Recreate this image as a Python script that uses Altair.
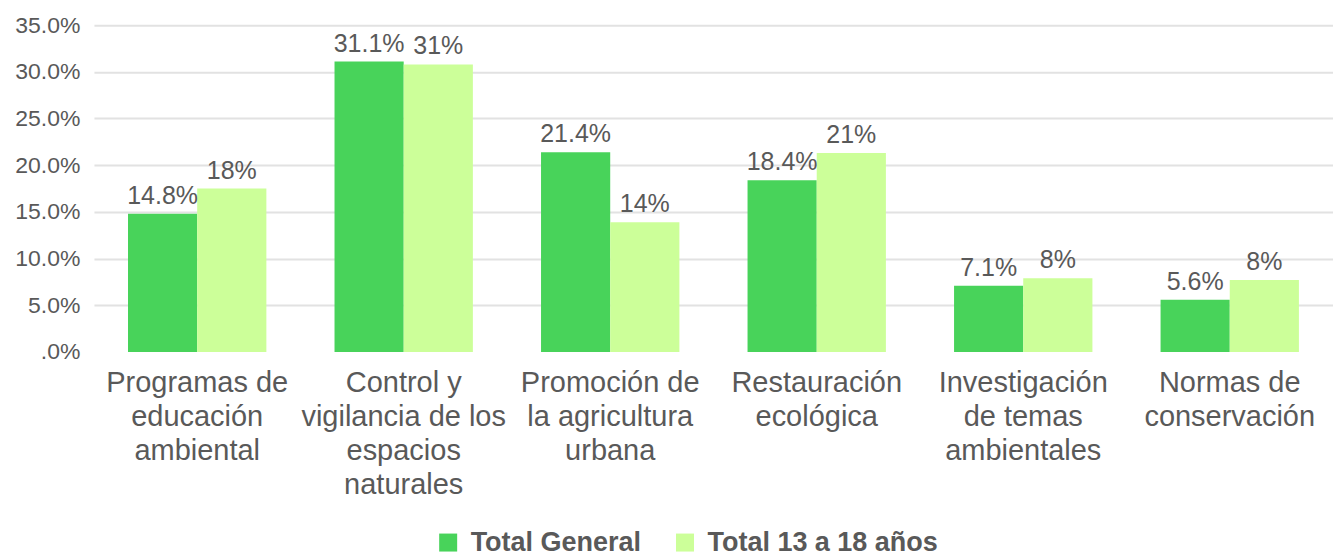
import altair as alt
import pandas as pd

FONT = "Liberation Sans"

categories = [
    "Programas de|educación|ambiental",
    "Control y|vigilancia de los|espacios|naturales",
    "Promoción de|la agricultura|urbana",
    "Restauración|ecológica",
    "Investigación|de temas|ambientales",
    "Normas de|conservación",
]
series = ["Total General", "Total 13 a 18 años"]
total_general = [14.8, 31.1, 21.4, 18.4, 7.1, 5.6]
total_general_labels = ["14.8%", "31.1%", "21.4%", "18.4%", "7.1%", "5.6%"]
total_13_18 = [17.5, 30.8, 13.9, 21.3, 7.9, 7.7]
total_13_18_labels = ["18%", "31%", "14%", "21%", "8%", "8%"]
colors = ["#48D35A", "#CCFF99"]
y_ticks = [0, 5, 10, 15, 20, 25, 30, 35]

rows = []
for c, v, l in zip(categories, total_general, total_general_labels):
    rows.append({"category": c, "series": series[0], "value": v, "label": l})
for c, v, l in zip(categories, total_13_18, total_13_18_labels):
    rows.append({"category": c, "series": series[1], "value": v, "label": l})
df = pd.DataFrame(rows)

x_enc = alt.X(
    "category:N",
    sort=categories,
    scale=alt.Scale(paddingInner=0.33, paddingOuter=0.165),
    axis=alt.Axis(
        title=None,
        labelExpr="split(datum.label, '|')",
        labelAngle=0,
        labelFont=FONT,
        labelFontSize=29,
        labelLineHeight=34,
        labelLimit=400,
        labelPadding=17,
        labelColor="#595959",
        ticks=False,
        domain=False,
    ),
)
xoff_enc = alt.XOffset("series:N", sort=series, scale=alt.Scale(paddingInner=0, paddingOuter=0))
y_enc = alt.Y(
    "value:Q",
    scale=alt.Scale(domain=[0, 35], nice=False),
    axis=alt.Axis(
        title=None,
        values=y_ticks,
        labelExpr="datum.value == 0 ? '.0%' : format(datum.value, '.1f') + '%'",
        labelFont=FONT,
        labelFontSize=23,
        labelColor="#595959",
        labelPadding=14,
        ticks=False,
        domain=False,
        gridColor="#e2e2e2",
        gridWidth=2,
        gridOpacity={"condition": {"test": "datum.value === 0", "value": 0}, "value": 1},
    ),
)

bars = alt.Chart(df).mark_bar().encode(
    x=x_enc,
    xOffset=xoff_enc,
    y=y_enc,
    color=alt.Color(
        "series:N",
        sort=series,
        scale=alt.Scale(domain=series, range=colors),
        legend=alt.Legend(
            title=None,
            orient="none",
            legendX=341,
            legendY=504,
            direction="horizontal",
            symbolType="square",
            symbolSize=324,
            symbolStrokeWidth=0,
            labelFont=FONT,
            labelFontSize=27,
            labelFontWeight="bold",
            labelColor="#595959",
            labelOffset=9,
            columnPadding=30,
            labelLimit=400,
        ),
    ),
)

text = alt.Chart(df).mark_text(
    baseline="bottom", dy=-5, font=FONT, fontSize=25, color="#595959"
).encode(
    x=x_enc,
    xOffset=xoff_enc,
    y=y_enc,
    text="label:N",
)

chart = (
    alt.layer(bars, text)
    .properties(width=1240, height=327, padding={"left": 6, "top": 6, "right": 0, "bottom": 0})
    .configure_view(stroke=None)
)

chart.save("out.html", embed_options={"renderer": "svg", "actions": False})
